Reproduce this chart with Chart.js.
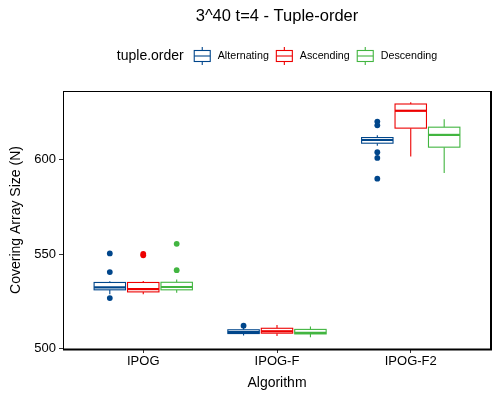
<!DOCTYPE html>
<html>
<head>
<meta charset="utf-8">
<script src="https://cdn.jsdelivr.net/npm/chart.js@4.4.1/dist/chart.umd.min.js"></script>
<style>
  html, body { margin: 0; padding: 0; background: #fff; }
  #wrap { width: 500px; height: 400px; }
</style>
</head>
<body>
<div id="wrap"><canvas id="chart" width="500" height="400"></canvas></div>
<script>
// categories and groups
const algorithms = ['IPOG', 'IPOG-F', 'IPOG-F2'];
const orders = ['Alternating', 'Ascending', 'Descending'];
const orderColors = ['#00468B', '#ED0000', '#42B540'];
const yTicks = [500, 550, 600];

// box stats per order, one value per algorithm
const altLow = [528.6, 506.8, 607.5];
const altQ1 = [531.0, 507.8, 608.8];
const altMed = [532.3, 508.6, 610.5];
const altQ3 = [534.9, 509.8, 611.8];
const altHigh = [535.5, 511.0, 613.0];
const altOut = [[550.3, 540.4, 526.6], [512.0], [620.3, 618.3, 604.0, 601.0, 590.0]];

const ascLow = [528.7, 506.5, 601.7];
const ascQ1 = [529.9, 508.0, 616.8];
const ascMed = [531.4, 509.0, 626.0];
const ascQ3 = [534.9, 510.6, 629.6];
const ascHigh = [535.7, 512.4, 630.5];
const ascOut = [[549.3, 550.1], [], []];

const descLow = [529.5, 505.8, 593.0];
const descQ1 = [531.0, 507.6, 606.7];
const descMed = [532.5, 508.2, 613.2];
const descQ3 = [535.0, 510.0, 617.3];
const descHigh = [536.5, 511.5, 621.5];
const descOut = [[555.4, 541.4], [], []];

const boxStats = [
  { low: altLow, q1: altQ1, med: altMed, q3: altQ3, high: altHigh, out: altOut },
  { low: ascLow, q1: ascQ1, med: ascMed, q3: ascQ3, high: ascHigh, out: ascOut },
  { low: descLow, q1: descQ1, med: descMed, q3: descQ3, high: descHigh, out: descOut },
];

const dodge = 0.25;
const boxWidth = 0.235;
const FONT = '"Liberation Sans", Arial, sans-serif';

function offsetFor(o) {
  return (o - 1) * dodge;
}

// outliers as scatter points
const outlierSets = boxStats.map(function (st, o) {
  let pts = [];
  st.out.forEach(function (vals, i) {
    vals.forEach(function (v) {
      pts.push({ x: i + 1 + offsetFor(o), y: v });
    });
  });
  return {
    label: orders[o],
    data: pts,
    pointRadius: 2.9,
    pointHoverRadius: 2.9,
    pointBackgroundColor: orderColors[o],
    pointBorderWidth: 0,
    showLine: false,
  };
});

const boxPlugin = {
  id: 'boxes',
  beforeDatasetsDraw(chart) {
    const ctx = chart.ctx;
    const xs = chart.scales.x;
    const ys = chart.scales.y;
    ctx.save();
    boxStats.forEach(function (st, o) {
      ctx.strokeStyle = orderColors[o];
      algorithms.forEach(function (a, i) {
        const cx = i + 1 + offsetFor(o);
        const px = xs.getPixelForValue(cx);
        const x0 = xs.getPixelForValue(cx - boxWidth / 2);
        const x1 = xs.getPixelForValue(cx + boxWidth / 2);
        const yLow = ys.getPixelForValue(st.low[i]);
        const yQ1 = ys.getPixelForValue(st.q1[i]);
        const yMed = ys.getPixelForValue(st.med[i]);
        const yQ3 = ys.getPixelForValue(st.q3[i]);
        const yHigh = ys.getPixelForValue(st.high[i]);
        ctx.lineWidth = 1.1;
        ctx.beginPath();
        ctx.moveTo(px, yLow); ctx.lineTo(px, yQ1);
        ctx.moveTo(px, yQ3); ctx.lineTo(px, yHigh);
        ctx.stroke();
        ctx.fillStyle = '#fff';
        ctx.fillRect(x0, yQ3, x1 - x0, yQ1 - yQ3);
        ctx.strokeRect(x0, yQ3, x1 - x0, yQ1 - yQ3);
        ctx.lineWidth = 2.2;
        ctx.beginPath();
        ctx.moveTo(x0, yMed); ctx.lineTo(x1, yMed);
        ctx.stroke();
      });
    });
    ctx.restore();
  },
  afterDraw(chart) {
    const ctx = chart.ctx;
    const area = chart.chartArea;
    const mid = (area.left + area.right) / 2;
    ctx.save();

    // panel frame
    ctx.strokeStyle = '#000';
    ctx.lineWidth = 1;
    ctx.beginPath();
    ctx.moveTo(area.left, area.top + 0.5); ctx.lineTo(area.right, area.top + 0.5);
    ctx.stroke();
    ctx.lineWidth = 2;
    ctx.beginPath();
    ctx.moveTo(area.right, area.top); ctx.lineTo(area.right, area.bottom + 1);
    ctx.moveTo(area.left, area.bottom + 0.5); ctx.lineTo(area.right + 1, area.bottom + 0.5);
    ctx.stroke();

    // title
    ctx.fillStyle = '#000';
    ctx.textAlign = 'center';
    ctx.textBaseline = 'middle';
    ctx.font = '16.5px ' + FONT;
    ctx.fillText('3^40 t=4 - Tuple-order', mid, 16);

    // axis titles
    ctx.font = '14px ' + FONT;
    ctx.fillText('Algorithm', mid, 383);
    ctx.save();
    ctx.translate(16, (area.top + area.bottom) / 2);
    ctx.rotate(-Math.PI / 2);
    ctx.fillText('Covering Array Size (N)', 0, 0);
    ctx.restore();

    // legend
    const ly = 56;
    ctx.textAlign = 'left';
    ctx.font = '14px ' + FONT;
    const titleW = ctx.measureText('tuple.order').width;
    ctx.font = '10.7px ' + FONT;
    let total = titleW + 10;
    orders.forEach(function (n, k) {
      total += 17 + 7 + ctx.measureText(n).width + (k < orders.length - 1 ? 7 : 0);
    });
    let lx = mid - total / 2;
    ctx.font = '14px ' + FONT;
    ctx.fillText('tuple.order', lx, ly);
    lx += titleW + 10;
    orders.forEach(function (n, k) {
      ctx.strokeStyle = orderColors[k];
      ctx.lineWidth = 1.1;
      ctx.beginPath();
      ctx.moveTo(lx + 8.5, ly - 9); ctx.lineTo(lx + 8.5, ly - 5.5);
      ctx.moveTo(lx + 8.5, ly + 5.5); ctx.lineTo(lx + 8.5, ly + 9);
      ctx.stroke();
      ctx.fillStyle = '#fff';
      ctx.fillRect(lx + 0.5, ly - 5.5, 16, 11);
      ctx.strokeRect(lx + 0.5, ly - 5.5, 16, 11);
      ctx.beginPath();
      ctx.moveTo(lx + 0.5, ly); ctx.lineTo(lx + 16.5, ly);
      ctx.stroke();
      lx += 17 + 7;
      ctx.fillStyle = '#000';
      ctx.font = '10.7px ' + FONT;
      ctx.fillText(n, lx, ly);
      lx += ctx.measureText(n).width + 7;
    });
    ctx.restore();
  }
};

const chart = new Chart(document.getElementById('chart'), {
  type: 'scatter',
  data: { datasets: outlierSets },
  options: {
    responsive: false,
    animation: false,
    devicePixelRatio: 1,
    layout: { padding: { top: 91, right: 9, left: 0, bottom: 0 } },
    plugins: { legend: { display: false }, tooltip: { enabled: false }, title: { display: false } },
    scales: {
      x: {
        type: 'linear',
        min: 0.4,
        max: 3.6,
        afterBuildTicks: function (scale) {
          scale.ticks = algorithms.map(function (a, i) { return { value: i + 1 }; });
        },
        afterFit: function (scale) { scale.height = 51; },
        ticks: {
          color: '#000',
          font: { family: FONT, size: 13 },
          padding: 1,
          maxRotation: 0,
          callback: function (v) { return algorithms[v - 1]; }
        },
        grid: { drawOnChartArea: false, drawTicks: true, tickLength: 4, color: '#333' },
        border: { display: true, color: '#000', width: 1 }
      },
      y: {
        type: 'linear',
        min: 499.6,
        max: 636.5,
        afterBuildTicks: function (scale) {
          scale.ticks = yTicks.map(function (v) { return { value: v }; });
        },
        afterFit: function (scale) { scale.width = 63; },
        ticks: {
          color: '#000',
          font: { family: FONT, size: 13 },
          padding: 3
        },
        grid: { drawOnChartArea: false, drawTicks: true, tickLength: 4, color: '#333' },
        border: { display: true, color: '#000', width: 1 }
      }
    }
  },
  plugins: [boxPlugin]
});
</script>
</body>
</html>
